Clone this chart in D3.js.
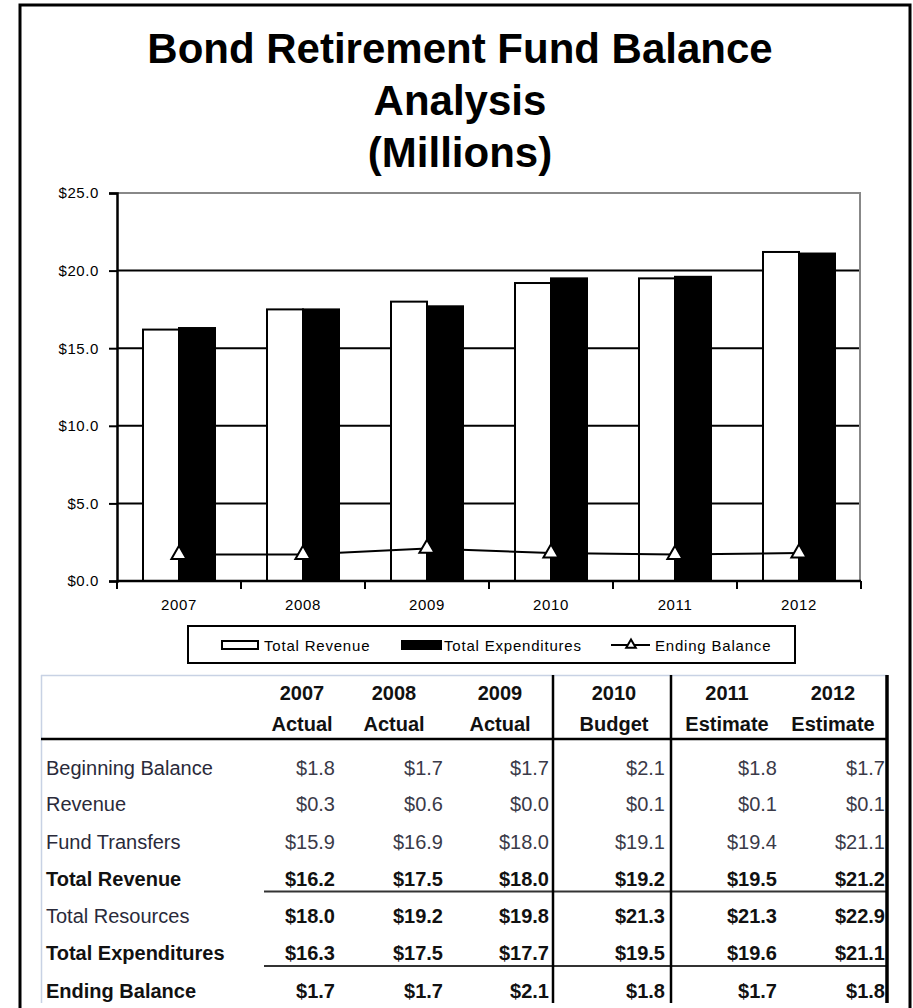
<!DOCTYPE html>
<html>
<head>
<meta charset="utf-8">
<script src="https://cdn.jsdelivr.net/npm/d3@7"></script>
<style>
  html, body { margin: 0; padding: 0; background: #fff; }
  svg { display: block; font-family: "Liberation Sans", Arial, sans-serif; }
</style>
</head>
<body>
<svg id="chart" width="913" height="1008"></svg>
<script>
// ---------- data ----------
const titleLines = ["Bond Retirement Fund Balance", "Analysis", "(Millions)"];
const years = ["2007", "2008", "2009", "2010", "2011", "2012"];
const colTypes = ["Actual", "Actual", "Actual", "Budget", "Estimate", "Estimate"];
const seriesNames = ["Total Revenue", "Total Expenditures", "Ending Balance"];
const totalRevenue = [16.2, 17.5, 18.0, 19.2, 19.5, 21.2];
const totalExpenditures = [16.3, 17.5, 17.7, 19.5, 19.6, 21.1];
const endingBalance = [1.7, 1.7, 2.1, 1.8, 1.7, 1.8];
const yTicks = [0, 5, 10, 15, 20, 25];

const beginningBalance = [1.8, 1.7, 1.7, 2.1, 1.8, 1.7];
const revenue = [0.3, 0.6, 0.0, 0.1, 0.1, 0.1];
const fundTransfers = [15.9, 16.9, 18.0, 19.1, 19.4, 21.1];
const totalResources = [18.0, 19.2, 19.8, 21.3, 21.3, 22.9];
const rowLabels = ["Beginning Balance", "Revenue", "Fund Transfers", "Total Revenue",
                   "Total Resources", "Total Expenditures", "Ending Balance"];
const rowValues = [beginningBalance, revenue, fundTransfers, totalRevenue,
                   totalResources, totalExpenditures, endingBalance];
const labelBold = [false, false, false, true, false, true, true];
const valueBold = [false, false, false, true, true, true, true];

// ---------- setup ----------
const svg = d3.select("#chart");

// page border
svg.append("rect").attr("x", 20).attr("y", 5).attr("width", 890).attr("height", 1040)
  .attr("fill", "none").attr("stroke", "#000").attr("stroke-width", 3);

// title
svg.append("g").selectAll("text").data(titleLines).join("text")
  .attr("x", 460).attr("y", (d, i) => 63 + i * 52)
  .attr("text-anchor", "middle").attr("font-size", 42).attr("font-weight", "bold")
  .attr("fill", "#000").text(d => d);

// ---------- chart ----------
const x0 = d3.scaleBand().domain(years).range([117, 861]);
const x1 = d3.scaleBand().domain(["rev", "exp"]).range([26, 98]);
const y = d3.scaleLinear().domain([0, 25]).range([581, 193]);

const chart = svg.append("g");

// gridlines
chart.append("g").selectAll("line").data(yTicks.filter(t => t > 0 && t < 25)).join("line")
  .attr("x1", 117).attr("x2", 860).attr("y1", d => y(d)).attr("y2", d => y(d))
  .attr("stroke", "#000").attr("stroke-width", 2);
// plot frame top/right (gray)
chart.append("path")
  .attr("d", `M117,${y(25)}H860V${y(0)}`)
  .attr("fill", "none").attr("stroke", "#888").attr("stroke-width", 2);

// bars
const groups = chart.append("g").selectAll("g").data(years).join("g")
  .attr("transform", d => `translate(${x0(d)},0)`);
groups.append("rect")
  .attr("x", x1("rev")).attr("width", x1.bandwidth())
  .attr("y", (d, i) => y(totalRevenue[i])).attr("height", (d, i) => y(0) - y(totalRevenue[i]))
  .attr("fill", "#fff").attr("stroke", "#000").attr("stroke-width", 2);
groups.append("rect")
  .attr("x", x1("exp")).attr("width", x1.bandwidth())
  .attr("y", (d, i) => y(totalExpenditures[i])).attr("height", (d, i) => y(0) - y(totalExpenditures[i]))
  .attr("fill", "#000").attr("stroke", "#000").attr("stroke-width", 2);

// y axis
const yAxis = d3.axisLeft(y).tickValues(yTicks).tickSize(8).tickPadding(10)
  .tickFormat(d => "$" + d3.format(".1f")(d));
const yg = chart.append("g").attr("transform", "translate(117,0)").call(yAxis);
yg.attr("font-family", '"Liberation Sans", Arial, sans-serif');
yg.select(".domain").attr("stroke", "#000").attr("stroke-width", 2.5);
yg.selectAll(".tick line").attr("stroke", "#000").attr("stroke-width", 2);
yg.selectAll(".tick text").attr("font-size", 15).attr("letter-spacing", 0.6)
  .attr("fill", "#000");

// x axis
const xg = chart.append("g").attr("transform", `translate(0,${y(0)})`);
xg.append("line").attr("x1", 117).attr("x2", 861).attr("stroke", "#000").attr("stroke-width", 2.5);
xg.selectAll("line.tk").data(years.concat(["end"])).join("line").attr("class", "tk")
  .attr("x1", (d, i) => i < years.length ? x0(d) : x0(years[years.length - 1]) + x0.bandwidth())
  .attr("x2", (d, i) => i < years.length ? x0(d) : x0(years[years.length - 1]) + x0.bandwidth())
  .attr("y1", 0).attr("y2", 8).attr("stroke", "#000").attr("stroke-width", 2);
xg.selectAll("text").data(years).join("text")
  .attr("x", d => x0(d) + x0.bandwidth() / 2).attr("y", 29)
  .attr("text-anchor", "middle").attr("font-size", 15).attr("letter-spacing", 0.6)
  .attr("fill", "#000").text(d => d);

// ending balance line
const lineGen = d3.line().x((d, i) => x0(years[i]) + x0.bandwidth() / 2).y(d => y(d));
chart.append("path").datum(endingBalance).attr("d", lineGen)
  .attr("fill", "none").attr("stroke", "#000").attr("stroke-width", 2);
const tri = d3.symbol().type(d3.symbolTriangle).size(100);
chart.append("g").selectAll("path").data(endingBalance).join("path")
  .attr("transform", (d, i) => `translate(${x0(years[i]) + x0.bandwidth() / 2},${y(d)})`)
  .attr("d", tri).attr("fill", "#fff").attr("stroke", "#000").attr("stroke-width", 2);

// legend
const lg = svg.append("g");
lg.append("rect").attr("x", 188).attr("y", 626).attr("width", 607).attr("height", 37)
  .attr("fill", "#fff").attr("stroke", "#000").attr("stroke-width", 2);
lg.append("rect").attr("x", 222).attr("y", 641).attr("width", 36).attr("height", 8)
  .attr("fill", "#fff").attr("stroke", "#000").attr("stroke-width", 2);
lg.append("rect").attr("x", 401).attr("y", 640).attr("width", 41).attr("height", 10)
  .attr("fill", "#000");
lg.append("line").attr("x1", 611).attr("x2", 650).attr("y1", 645).attr("y2", 645)
  .attr("stroke", "#000").attr("stroke-width", 2);
lg.append("path").attr("transform", "translate(631,645)").attr("d", d3.symbol().type(d3.symbolTriangle).size(40))
  .attr("fill", "#fff").attr("stroke", "#000").attr("stroke-width", 2);
const legX = [264, 444, 655];
lg.selectAll("text").data(seriesNames).join("text")
  .attr("x", (d, i) => legX[i]).attr("y", 650.5)
  .attr("font-size", 15).attr("letter-spacing", 0.8).attr("fill", "#000").text(d => d);

// ---------- table ----------
const tb = svg.append("g");
const colCenters = [302, 394, 500, 614, 727, 833];
const colRights = [335, 443, 549, 665, 777, 885];
const rowCenters = [768, 804, 842, 879, 916, 953, 991];

tb.append("line").attr("x1", 41).attr("x2", 887).attr("y1", 675.5).attr("y2", 675.5)
  .attr("stroke", "#c8d2e4").attr("stroke-width", 1.5);
tb.append("line").attr("x1", 41.5).attr("x2", 41.5).attr("y1", 675).attr("y2", 1003)
  .attr("stroke", "#c8d2e4").attr("stroke-width", 1.5);

tb.selectAll("text.yr").data(years).join("text").attr("class", "yr")
  .attr("x", (d, i) => colCenters[i]).attr("y", 700)
  .attr("text-anchor", "middle").attr("font-size", 20).attr("font-weight", "bold")
  .attr("fill", "#111").text(d => d);
tb.selectAll("text.ty").data(colTypes).join("text").attr("class", "ty")
  .attr("x", (d, i) => colCenters[i]).attr("y", 731)
  .attr("text-anchor", "middle").attr("font-size", 20).attr("font-weight", "bold")
  .attr("fill", "#111").text(d => d);

tb.append("line").attr("x1", 41).attr("x2", 887).attr("y1", 739).attr("y2", 739)
  .attr("stroke", "#000").attr("stroke-width", 2.5);

// underlines
[3, 5].forEach(r => {
  const yy = (rowCenters[r] + rowCenters[r + 1]) / 2 - 6;
  tb.append("line").attr("x1", 264).attr("x2", 886).attr("y1", yy).attr("y2", yy)
    .attr("stroke", "#333").attr("stroke-width", 1.8);
});

// vertical separators
[[553, 2.5], [671, 2.5], [887, 3.5]].forEach(([vx, w]) => {
  tb.append("line").attr("x1", vx).attr("x2", vx).attr("y1", 675).attr("y2", 1003)
    .attr("stroke", "#000").attr("stroke-width", w);
});

const rows = tb.selectAll("g.row").data(rowLabels).join("g").attr("class", "row");
rows.append("text").attr("x", 46).attr("y", (d, i) => rowCenters[i] + 7)
  .attr("font-size", 20).attr("font-weight", (d, i) => labelBold[i] ? "bold" : "normal")
  .attr("fill", (d, i) => labelBold[i] ? "#111" : "#2a2a3a").text(d => d);
rows.each(function (d, r) {
  d3.select(this).selectAll("text.v").data(rowValues[r]).join("text").attr("class", "v")
    .attr("x", (v, i) => colRights[i]).attr("y", rowCenters[r] + 7)
    .attr("text-anchor", "end").attr("font-size", 20)
    .attr("font-weight", valueBold[r] ? "bold" : "normal")
    .attr("fill", valueBold[r] ? "#111" : "#3a3a48")
    .text(v => "$" + d3.format(".1f")(v));
});
</script>
</body>
</html>
